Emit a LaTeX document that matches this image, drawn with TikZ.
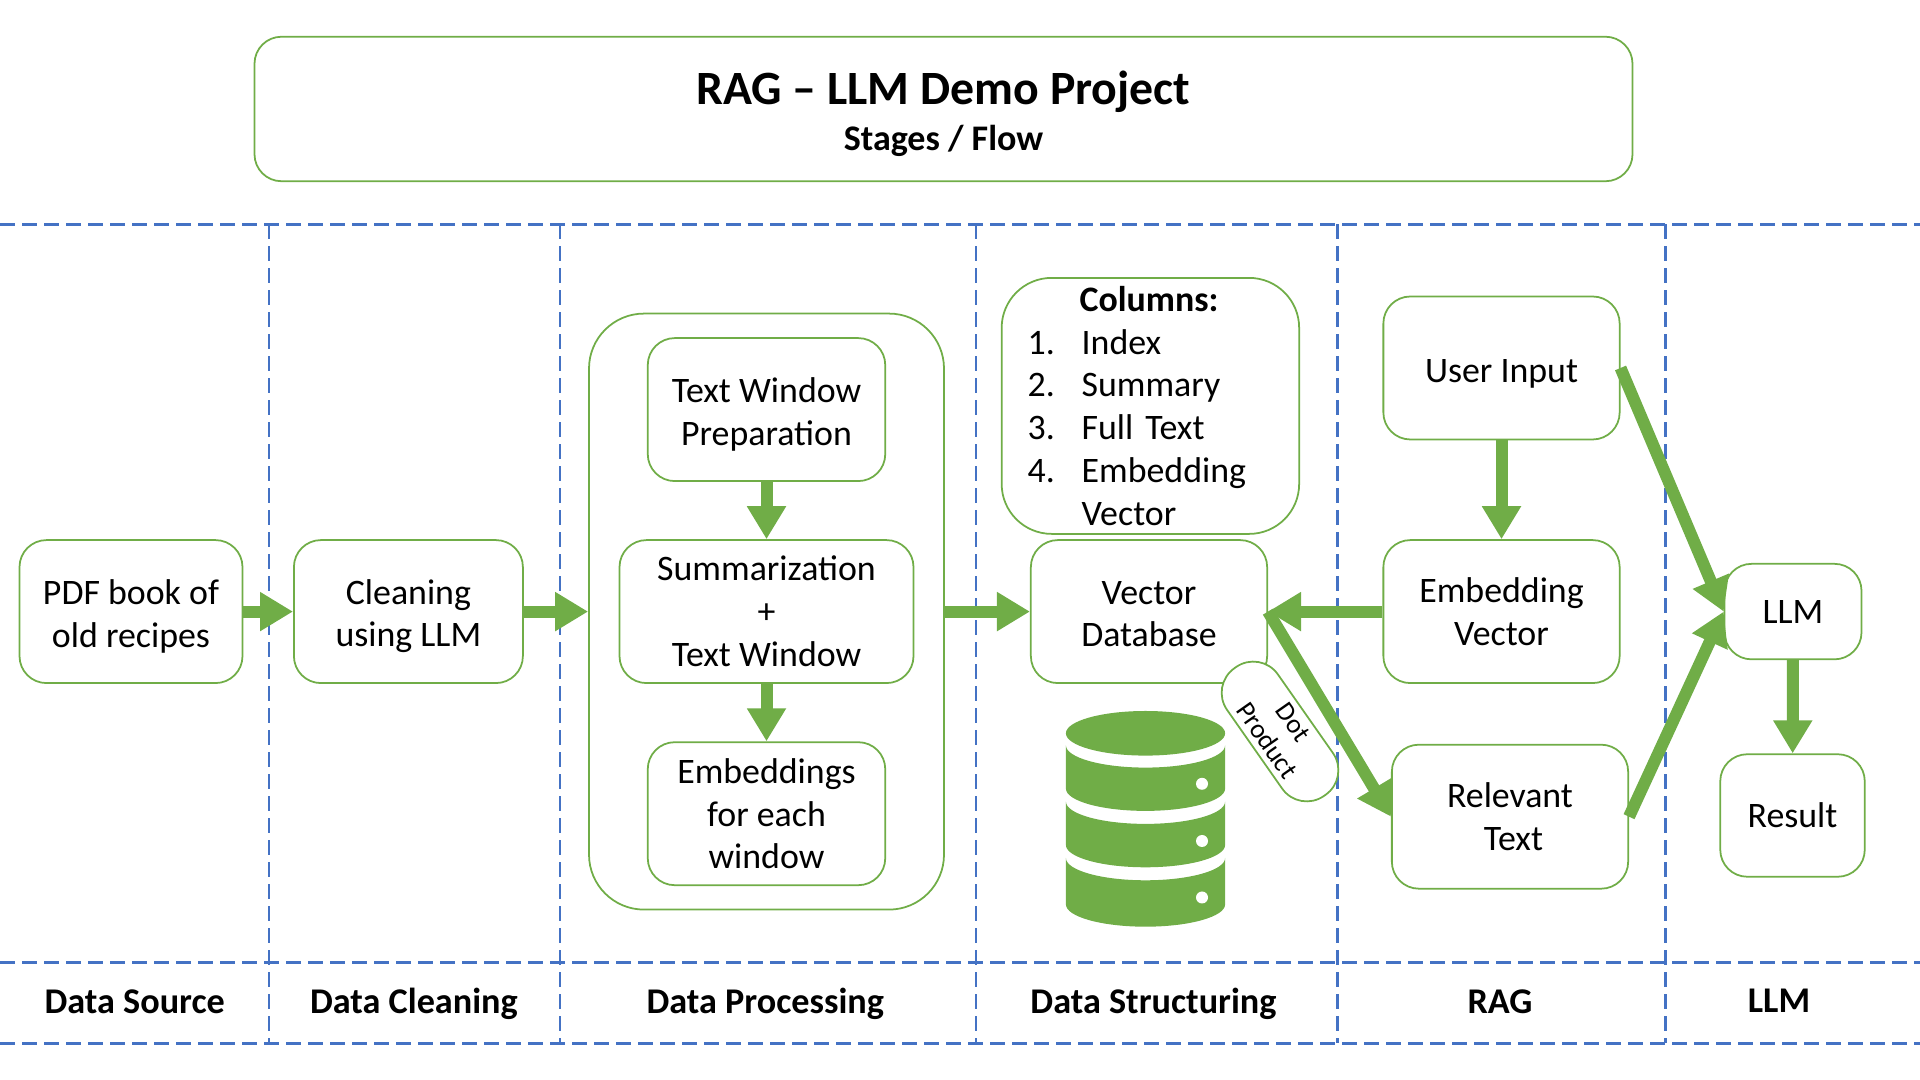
\documentclass[tikz,border=0pt]{standalone}
\usepackage{fontspec}
\setmainfont{Carlito}
\usetikzlibrary{arrows.meta}
\definecolor{boxgreen}{HTML}{70AD47}
\definecolor{laneblue}{HTML}{4472C4}
\newcommand{\lowerline}{\rule{0pt}{0.34cm}}
\tikzset{
  box/.style={draw=boxgreen, line width=0.5pt, rounded corners=0.27cm, fill=white, align=center, inner sep=0pt,
    font=\fontsize{10.2}{12.2}\selectfont},
  lane/.style={draw=laneblue, line width=0.8pt, dash pattern=on 0.15cm off 0.07cm},
  flow/.style={draw=boxgreen, line width=0.12cm, -{Triangle[length=0.33cm,width=0.37cm]}},
  stage/.style={font=\fontsize{10.3}{12}\selectfont\bfseries, inner sep=0pt, anchor=base}
}
\begin{document}
\begin{tikzpicture}
      \useasboundingbox (0,0) rectangle (19.2,10.8);
      \node (title) at (9.435,9.71) [box, minimum width=13.78cm, minimum height=1.445cm] {\rule{0pt}{0.43cm}{\fontsize{13.6}{16}\selectfont\bfseries RAG – LLM Demo Project}\\[1pt]{\fontsize{10.25}{12}\selectfont\bfseries Stages / Flow}};
      % lanes
      \foreach \y in {8.555,1.176,0.367}
        \draw[lane, line width=0.85pt] (0,\y) -- (19.2,\y);
      \foreach \x in {2.69,5.6,9.76,13.372,16.655}
        \draw[lane] (\x,8.555) -- (\x,0.367);
      \node (pdf) at (1.31,4.684) [box, minimum width=2.23cm, minimum height=1.43cm] {\lowerline PDF book of\\old recipes};
      \node (clean) at (4.084,4.684) [box, minimum width=2.29cm, minimum height=1.43cm] {\lowerline Cleaning\\using LLM};
      \node (proc) at (7.665,4.684) [box, rounded corners=0.55cm, minimum width=3.55cm, minimum height=5.96cm] {};
      \node (prep) at (7.665,6.704) [box, minimum width=2.375cm, minimum height=1.43cm] {\lowerline Text Window\\Preparation};
      \node (summ) at (7.665,4.684) [box, minimum width=2.94cm, minimum height=1.43cm] {Summarization\\+\\Text Window};
      \node (embed) at (7.665,2.663) [box, minimum width=2.375cm, minimum height=1.43cm] {Embeddings\\for each\\window};
      \node (cols) at (11.504,6.741) [box, rounded corners=0.5cm, minimum width=2.975cm, minimum height=2.56cm, text width=2.975cm, align=left] {\hspace*{0.78cm}\textbf{Columns:}\\\hspace*{0.26cm}\makebox[0.54cm][l]{1.}Index\\\hspace*{0.26cm}\makebox[0.54cm][l]{2.}Summary\\\hspace*{0.26cm}\makebox[0.54cm][l]{3.}Full Text\\\hspace*{0.26cm}\makebox[0.54cm][l]{4.}Embedding\\\hspace*{0.8cm}Vector};
      \node (vecdb) at (11.49,4.684) [box, minimum width=2.363cm, minimum height=1.43cm] {\rule{0pt}{0.28cm}Vector\\Database};
      \node (dot) at (12.80,3.485) [box, rotate=-55, rounded corners=0.3cm, minimum width=1.56cm, minimum height=0.62cm, font=\fontsize{7.7}{9}\selectfont] {Dot\\Product};
      \node (user) at (15.015,7.12) [box, minimum width=2.363cm, minimum height=1.43cm] {\lowerline User Input};
      \node (vec) at (15.015,4.684) [box, minimum width=2.363cm, minimum height=1.43cm] {Embedding\\Vector};
      \node (rel) at (15.1,2.633) [box, minimum width=2.363cm, minimum height=1.44cm] {Relevant\\\hspace*{0.07cm}Text};
      \node (llm) at (17.93,4.684) [box, minimum width=1.37cm, minimum height=0.955cm] {LLM};
      \node (res) at (17.925,2.645) [box, minimum width=1.445cm, minimum height=1.225cm] {Result};
      % database icon
      \fill[boxgreen] (11.455,3.467) ellipse [x radius=0.796, y radius=0.223];
      \foreach \top/\bot in {3.347/2.914, 2.784/2.35, 2.22/1.756} {
        \fill[boxgreen] (10.659,\top) -- (10.659,\bot) arc [x radius=0.796, y radius=0.223, start angle=180, end angle=360] -- (12.251,\top) arc [x radius=0.796, y radius=0.223, start angle=0, end angle=-180] -- cycle;
      }
      \foreach \y in {2.962,2.39,1.825}
        \fill[white] (12.02,\y) circle (0.06);
      \foreach \source/\dest in {pdf.east/clean.west, clean.east/proc.west, proc.east/vecdb.west, prep/summ, summ/embed, user/vec, vec.west/vecdb.east, vecdb.east/rel.west, user.east/llm.west, rel.east/llm.west, llm/res}
        \draw[flow] (\source) -- (\dest);
      \node (s1) at (1.347,0.66) [stage] {Data Source};
      \node (s2) at (4.139,0.66) [stage] {Data Cleaning};
      \node (s3) at (7.653,0.66) [stage] {Data Processing};
      \node (s4) at (11.535,0.66) [stage] {Data Structuring};
      \node (s5) at (15.0,0.66) [stage] {RAG};
      \node (s6) at (17.79,0.67) [stage] {LLM};
\end{tikzpicture}
\end{document}
